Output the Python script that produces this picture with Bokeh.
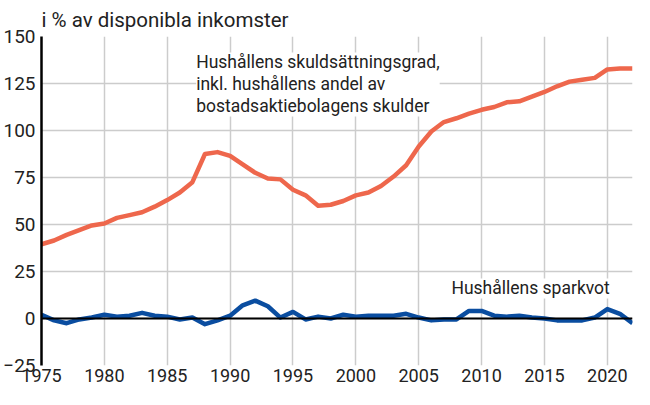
from bokeh.plotting import figure
from bokeh.models import Span, Label, FixedTicker, Range1d
from bokeh.embed import file_html
from bokeh.resources import INLINE

years = list(range(1975, 2023))
debt_ratio = [39.5, 41.5, 44.5, 47, 49.5, 50.5, 53.5, 55, 56.5, 59.5,
              63, 67, 72.5, 87.5, 88.5, 86.5, 82, 77.5, 74.5, 74,
              68.5, 65.5, 60, 60.5, 62.5, 65.5, 67, 70.5, 75.5, 81.5,
              91.5, 99.5, 104.5, 106.5, 109, 111, 112.5, 115, 115.5, 118,
              120.5, 123.5, 126, 127, 128, 132.5, 133, 133]
saving_rate = [2, -1, -2.5, -0.5, 0.5, 2, 1, 1.5, 3, 1.5,
               1, -0.5, 0.5, -3, -1, 1.5, 7, 9.5, 6.5, 0.5,
               3.5, -0.5, 1, 0, 2, 1, 1.5, 1.5, 1.5, 2.5,
               0.5, -1, -0.5, -0.5, 4, 4, 1.5, 1, 1.5, 0.5,
               0, -1, -1, -1, 0.5, 5, 2.5, -2.5]
x_ticks = [1975, 1980, 1985, 1990, 1995, 2000, 2005, 2010, 2015, 2020]
y_ticks = [-25, 0, 25, 50, 75, 100, 125, 150]
title_text = "i % av disponibla inkomster"
debt_label = "Hushållens skuldsättningsgrad,\ninkl. hushållens andel av\nbostadsaktiebolagens skulder"
saving_label = "Hushållens sparkvot"

FONT = "Roboto"
TXT = "#222222"

p = figure(width=634, height=389, output_backend="svg", toolbar_location=None,
           x_range=Range1d(1975, 2022), y_range=Range1d(-25, 150),
           min_border_left=33, min_border_right=2, min_border_top=28, min_border_bottom=24)
p.outline_line_color = None
p.background_fill_color = "white"

p.xgrid.ticker = FixedTicker(ticks=x_ticks)
p.ygrid.ticker = FixedTicker(ticks=y_ticks)
p.grid.grid_line_color = "#cccccc"
p.grid.grid_line_width = 1.5

p.xaxis.ticker = FixedTicker(ticks=x_ticks)
p.yaxis.ticker = FixedTicker(ticks=y_ticks)
p.xaxis.axis_line_color = None
p.yaxis.axis_line_color = "black"
p.yaxis.axis_line_width = 2.5
for ax in (p.xaxis[0], p.yaxis[0]):
    ax.major_tick_line_color = None
    ax.major_tick_out = 0
    ax.major_tick_in = 0
    ax.minor_tick_line_color = None
    ax.major_label_text_font = FONT
    ax.major_label_text_font_size = "19px"
    ax.major_label_text_color = TXT
p.xaxis.major_label_text_font_size = "18px"
p.yaxis.major_label_standoff = 6
p.xaxis.major_label_standoff = 3

p.add_layout(Span(location=0, dimension="width", line_color="black", line_width=1.8))

p.line(years, debt_ratio, line_color="#EE674C", line_width=4.5, line_join="round")
p.line(years, saving_rate, line_color="#0A4DA0", line_width=4.5, line_join="round")

p.add_layout(Label(x=1987.3, y=141.5, text=debt_label, text_font=FONT, text_font_size="17.5px",
                   text_color=TXT, text_baseline="top", text_line_height=1.1,
                   background_fill_color="white", border_line_color=None))
p.add_layout(Label(x=2007.6, y=16, text=saving_label, text_font=FONT, text_font_size="17.5px",
                   text_color=TXT, text_baseline="middle",
                   background_fill_color="white", border_line_color=None))

p.title.text = title_text
p.title.text_font = FONT
p.title.text_font_size = "20.5px"
p.title.text_font_style = "normal"
p.title.text_color = TXT
p.title.offset = 0

open("out.html", "w").write(file_html(p, INLINE))
